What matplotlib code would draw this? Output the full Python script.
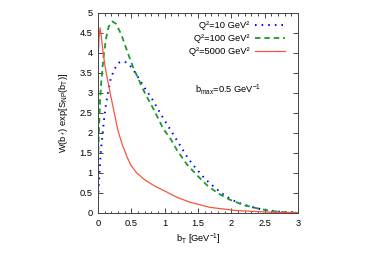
import matplotlib
matplotlib.use("Agg")
import matplotlib.pyplot as plt
from matplotlib.ticker import MultipleLocator

plt.rcParams.update({
    "font.family": ["Liberation Sans", "DejaVu Sans"],
    "font.size": 6.7,
    "mathtext.fontset": "custom",
    "mathtext.rm": "Liberation Sans",
    "mathtext.it": "Liberation Sans",
    "mathtext.default": "regular",
})

# Q^2 = 10 GeV^2
b_10 = [0.0, 0.015, 0.04, 0.065, 0.09, 0.115, 0.15, 0.19, 0.25, 0.315, 0.4,
        0.48, 0.59, 0.7, 0.805, 0.955, 1.095, 1.2, 1.355, 1.48, 1.605, 1.755,
        1.905, 2.08, 2.28, 2.48, 2.73, 3.0]
w_10 = [0.35, 0.78, 1.5, 1.9, 2.33, 2.66, 3.0, 3.35, 3.6, 3.75, 3.78,
        3.68, 3.42, 3.12, 2.86, 2.43, 2.05, 1.77, 1.35, 1.09, 0.85, 0.63,
        0.43, 0.27, 0.16, 0.08, 0.03, 0.01]

# Q^2 = 100 GeV^2
b_100 = [0.0, 0.015, 0.03, 0.05, 0.08, 0.12, 0.16, 0.215, 0.27, 0.35, 0.45,
         0.53, 0.59, 0.7, 0.83, 0.98, 1.095, 1.18, 1.33, 1.48, 1.63, 1.8,
         1.98, 2.18, 2.38, 2.58, 2.88, 3.0]
w_100 = [1.3, 2.1, 2.8, 3.3, 3.85, 4.35, 4.65, 4.78, 4.72, 4.45, 3.98,
         3.62, 3.4, 3.0, 2.6, 2.1, 1.83, 1.58, 1.22, 0.95, 0.7, 0.49,
         0.33, 0.2, 0.12, 0.05, 0.01, 0.005]

# Q^2 = 5000 GeV^2
b_5000 = [0.0, 0.015, 0.03, 0.05, 0.08, 0.11, 0.14, 0.2, 0.25, 0.3, 0.365,
          0.43, 0.49, 0.58, 0.7, 0.84, 1.0, 1.08, 1.2, 1.38, 1.68, 2.08,
          2.58, 3.0]
w_5000 = [3.78, 4.35, 4.62, 4.4, 3.95, 3.62, 3.35, 2.85, 2.45, 2.05, 1.7,
          1.42, 1.2, 1.0, 0.83, 0.68, 0.55, 0.48, 0.38, 0.27, 0.14, 0.06,
          0.02, 0.01]

labels = ["Q²=10 GeV²", "Q²=100 GeV²", "Q²=5000 GeV²"]


def main():
    fig = plt.figure(figsize=(3.65, 2.56), dpi=100)
    ax = fig.add_axes([0.2685, 0.168, 0.548, 0.783])

    ax.plot(b_10, w_10, color="#0000ff", lw=1.4, ls=(0, (0.8, 2.6)),
            dash_capstyle="butt", label=labels[0])
    ax.plot(b_100, w_100, color="#1a9a2a", lw=1.3, ls=(0, (3.0, 2.2)),
            label=labels[1])
    ax.plot(b_5000, w_5000, color="#f4553c", lw=0.9, label=labels[2])

    ax.set_xlim(0, 3)
    ax.set_ylim(0, 5)
    ax.xaxis.set_major_locator(MultipleLocator(0.5))
    ax.xaxis.set_minor_locator(MultipleLocator(0.1))
    ax.yaxis.set_major_locator(MultipleLocator(0.5))
    ax.xaxis.set_major_formatter(plt.FuncFormatter(lambda v, p: f"{v:g}"))
    ax.yaxis.set_major_formatter(plt.FuncFormatter(lambda v, p: f"{v:g}"))
    ax.tick_params(which="both", direction="in", top=True, right=True)
    ax.tick_params(which="major", length=3.5, width=0.5, pad=4)
    ax.tick_params(which="minor", length=1.8, width=0.5)
    for s in ax.spines.values():
        s.set_linewidth(0.7)
        s.set_color("#444444")

    ax.set_xlabel("b$_T$ [GeV$^{-1}$]", labelpad=3)
    ax.set_ylabel("W(b$_*$) exp[S$_{NP}$(b$_T$)]", labelpad=7)

    ax.text(1.95, 3.07, "b$_{max}$=0.5 GeV$^{-1}$", ha="center", va="center")

    ax.legend(loc="upper right", bbox_to_anchor=(0.97, 0.995), frameon=False,
              markerfirst=False, handlelength=3.2, handletextpad=0.6,
              labelspacing=0.45, borderpad=0.3)

    fig.savefig("out.png", dpi=100)
    plt.close(fig)


if __name__ == "__main__":
    main()
